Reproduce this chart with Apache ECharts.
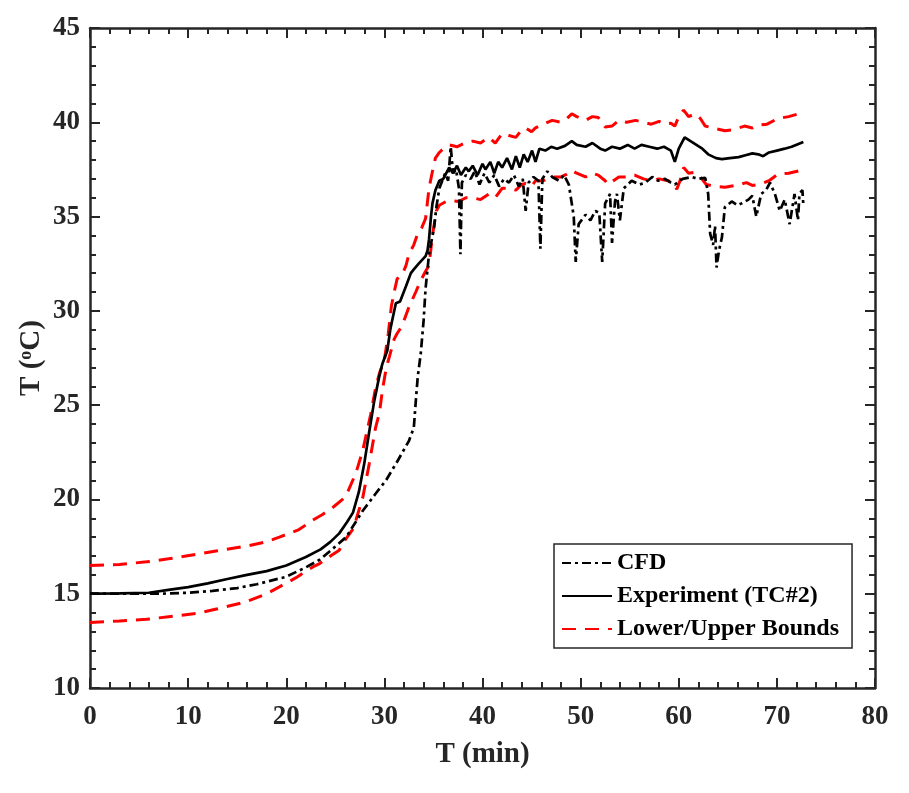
<!DOCTYPE html>
<html>
<head>
<meta charset="utf-8">
<script src="https://cdn.jsdelivr.net/npm/echarts@6/dist/echarts.min.js"></script>
<style>html,body{margin:0;padding:0;background:#fff}#c{width:909px;height:793px}</style>
</head>
<body>
<div id="c"></div>
<script>
// ---- Data ----
const xTicks = [0, 10, 20, 30, 40, 50, 60, 70, 80];
const yTicks = [10, 15, 20, 25, 30, 35, 40, 45];

const tExp = [0,3,6,8,10,12,14,16,18,20,22,23.5,24.5,25.4,26.2,26.8,27.4,27.95,28.46,28.96,29.47,29.8,30.3,30.6,30.8,31.17,31.6,32.2,32.7,33.0,33.5,34.2,34.4,34.55,34.75,34.9,35.2,35.6,36.0,36.6,37.0,37.4,37.8,38.3,38.6,39.0,39.5,40.0,40.3,40.8,41.2,41.6,42.0,42.5,43.0,43.4,43.8,44.2,44.6,45.05,45.4,45.8,46.4,47.0,47.6,48.4,49.1,49.6,50.5,51.2,52.0,52.5,53.2,54.0,54.8,55.5,56.2,57.0,57.8,58.5,59.2,59.6,60.0,60.6,61.2,61.8,62.4,63.0,63.8,64.4,65.2,66.1,66.8,67.5,68.1,68.6,69.2,70.0,70.8,71.5,72.2,72.7];
const TExp = [15.0,15.02,15.05,15.2,15.35,15.55,15.78,16.0,16.2,16.5,16.95,17.35,17.75,18.2,18.8,19.3,20.4,21.9,23.6,25.2,26.5,27.2,27.9,29.0,29.5,30.4,30.5,31.3,32.0,32.2,32.5,32.9,33.2,33.8,35.0,35.7,36.4,36.9,37.0,37.6,37.3,37.7,37.2,37.6,37.4,37.7,37.2,37.8,37.5,37.9,37.3,37.9,37.6,38.1,37.5,38.2,37.6,38.3,37.9,38.5,37.9,38.6,38.5,38.7,38.6,38.75,39.0,38.8,38.7,38.9,38.6,38.5,38.7,38.6,38.8,38.6,38.8,38.7,38.6,38.7,38.5,37.9,38.6,39.2,39.0,38.8,38.6,38.3,38.1,38.05,38.1,38.15,38.25,38.35,38.3,38.2,38.4,38.5,38.6,38.7,38.85,38.95];

const tCfd = [0,4,7,10,12.5,15,17,20,22,23.4,25,26.1,27.8,29.1,30.15,31.3,32.5,33.0,33.2,33.4,33.7,34.0,34.2,34.55,35.06,35.3,35.6,35.9,36.2,36.5,36.76,37.0,37.3,37.6,37.75,37.9,38.3,38.8,39.2,39.7,40.2,40.7,41.2,41.7,42.2,42.7,43.2,43.7,44.1,44.4,44.7,45.2,45.7,45.9,46.1,46.6,47.1,47.8,48.3,48.8,49.3,49.5,49.8,50.5,51.0,51.5,51.9,52.2,52.5,53.0,53.2,53.5,53.7,54.0,54.4,55.2,56.0,56.6,57.3,57.9,58.6,59.2,59.6,60.4,61.3,62.0,62.7,62.9,63.0,63.2,63.5,63.7,63.85,64.1,64.4,64.7,65.4,66.0,66.4,67.1,67.5,67.9,68.4,68.9,69.3,69.8,70.3,70.8,71.3,71.8,72.15,72.3,72.6,72.7];
const TCfd = [15.0,15.0,15.0,15.05,15.15,15.3,15.5,15.9,16.4,16.8,17.5,18.0,19.4,20.3,21.0,22.0,23.1,23.8,25.2,26.5,27.7,29.5,31.2,33.0,34.4,35.5,36.5,36.9,37.3,36.9,38.7,37.3,37.5,36.5,33.0,36.8,37.2,37.0,37.4,36.7,37.3,36.8,37.2,36.6,37.0,36.8,37.2,36.6,37.0,35.3,36.8,37.1,36.9,33.3,37.0,37.4,37.1,36.9,37.2,36.7,35.0,32.6,34.6,35.1,34.8,35.3,35.2,32.6,35.7,36.2,33.6,35.8,36.2,34.8,36.5,36.9,36.7,36.8,37.1,36.9,37.0,36.8,36.7,37.0,37.1,37.0,37.05,36.5,36.2,34.1,33.5,34.5,32.3,33.2,33.9,35.5,35.8,35.6,35.7,35.9,36.1,35.0,36.2,36.4,36.8,36.2,35.3,35.9,34.6,36.2,34.8,36.2,36.4,35.6];

const tUp = [0,3,5.76,8,10.8,13,15.9,18,19.3,21.3,22.7,23.7,24.8,25.74,26.1,27.1,27.8,28.6,29.1,29.5,30.0,30.4,30.7,31.0,31.3,31.8,32.2,32.5,33.0,33.4,33.8,34.2,34.55,34.9,35.2,35.6,36.0,36.6,37.4,38.2,39.0,39.8,40.65,41.3,42.0,42.7,43.4,44.0,44.4,45.0,45.4,46.2,47.1,48.0,48.6,49.1,49.6,50.5,51.2,51.8,52.5,53.2,53.9,54.7,55.6,56.4,57.2,58.0,58.6,59.2,59.6,60.0,60.5,61.0,61.7,62.2,62.7,63.5,64.7,65.5,66.7,67.5,68.1,69.0,70.1,71.2,72.2,72.7];
const TUp = [16.5,16.55,16.69,16.85,17.08,17.28,17.52,17.75,18.0,18.4,18.9,19.2,19.6,20.0,20.2,21.4,22.6,24.5,25.9,26.7,27.4,28.8,30.2,31.0,31.7,31.9,32.4,33.0,33.5,34.1,34.4,34.9,36.5,37.4,38.1,38.4,38.6,38.8,38.7,38.9,39.0,38.9,39.2,38.9,39.4,39.3,39.2,39.6,39.7,39.5,39.7,39.9,40.1,40.0,40.2,40.45,40.3,40.1,40.3,40.25,39.75,39.8,40.1,40.0,40.1,40.0,39.9,40.05,39.9,39.95,39.8,40.3,40.65,40.3,40.45,40.2,39.8,39.7,39.55,39.6,39.8,39.7,39.85,39.9,40.2,40.3,40.45,40.5];

const tLow = [0,3,5.76,8,10.8,13,15.9,18,19.3,21,22.7,23.4,24.5,25.4,25.74,26.76,27.1,27.8,28.46,29.1,29.5,29.8,30.2,30.5,31.0,31.3,31.8,32.5,33.2,33.7,34.2,34.55,34.9,35.3,35.6,36.3,36.9,37.6,38.3,39.0,39.8,40.65,41.3,42.0,42.7,43.4,44.0,44.4,45.0,45.4,46.2,47.1,48.0,48.6,49.1,49.6,50.5,51.2,51.8,52.5,52.8,53.9,54.7,55.5,56.4,57.2,58.0,58.9,59.4,59.8,60.2,60.5,61.0,61.65,62.2,62.8,63.7,64.7,65.8,66.9,67.5,68.3,69.2,70.1,71.2,72.3,72.7];
const TLow = [13.48,13.55,13.64,13.78,13.95,14.2,14.57,15.0,15.36,15.85,16.42,16.6,17.0,17.3,17.66,18.4,18.9,20.1,21.9,23.8,24.6,25.8,27.0,27.55,28.5,28.8,29.2,30.2,31.0,31.6,32.1,32.4,34.0,35.3,35.6,35.8,35.84,35.8,36.0,36.0,35.9,36.2,36.0,36.5,36.5,36.4,36.7,36.75,36.6,36.9,36.9,37.1,37.1,37.25,37.45,37.3,37.1,37.3,37.2,36.9,36.7,37.1,37.1,37.2,37.0,36.9,37.0,36.9,36.8,36.45,37.0,37.6,37.3,37.35,37.1,36.7,36.6,36.55,36.65,36.8,36.65,36.72,36.9,37.25,37.3,37.43,37.5];

// ---- Chart ----
const pairs = (xs, ys) => xs.map((x, i) => [x, ys[i]]);
const FONT = 'Liberation Serif, Times New Roman, serif';
const AX = '#262626';

const axisCommon = {
  axisLine: { show: true, onZero: false, lineStyle: { color: AX, width: 2.5 } },
  axisTick: { show: true, inside: true, length: 10, lineStyle: { color: AX, width: 2 } },
  minorTick: { show: true, splitNumber: 5, length: 6, lineStyle: { color: AX, width: 2 } },
  splitLine: { show: false },
  minorSplitLine: { show: false }
};

const chart = echarts.init(document.getElementById('c'), null, { renderer: 'canvas' });
chart.setOption({
  animation: false,
  backgroundColor: '#fff',
  grid: { left: 90, right: 34, top: 28, bottom: 105, containLabel: false },
  xAxis: [
    Object.assign({
      type: 'value', min: xTicks[0], max: xTicks[xTicks.length - 1], interval: 10, position: 'bottom',
      name: 'T (min)', nameLocation: 'middle', nameGap: 52,
      nameTextStyle: { fontFamily: FONT, fontWeight: 'bold', fontSize: 29, color: AX },
      axisLabel: { show: true, margin: 16, fontFamily: FONT, fontWeight: 'bold', fontSize: 27, color: AX }
    }, axisCommon),
    Object.assign({
      type: 'value', min: xTicks[0], max: xTicks[xTicks.length - 1], interval: 10, position: 'top',
      axisLabel: { show: false }
    }, axisCommon)
  ],
  yAxis: [
    Object.assign({
      type: 'value', min: yTicks[0], max: yTicks[yTicks.length - 1], interval: 5, position: 'left',
      name: 'T ({sup|o}C)', nameLocation: 'middle', nameGap: 44, nameMoveOverlap: false,
      nameTextStyle: {
        fontFamily: FONT, fontWeight: 'bold', fontSize: 29, color: AX,
        rich: { sup: { fontFamily: FONT, fontWeight: 'bold', fontSize: 18, color: AX, verticalAlign: 'top', padding: [0, 0, 11, 0] } }
      },
      axisLabel: { show: true, margin: 10, fontFamily: FONT, fontWeight: 'bold', fontSize: 27, color: AX }
    }, axisCommon),
    Object.assign({
      type: 'value', min: yTicks[0], max: yTicks[yTicks.length - 1], interval: 5, position: 'right',
      axisLabel: { show: false }
    }, axisCommon)
  ],
  legend: {
    orient: 'vertical', left: 554, top: 544,
    padding: [7, 13, 7, 7], itemGap: 9, itemWidth: 50, itemHeight: 16,
    backgroundColor: '#fff', borderColor: AX, borderWidth: 1.5, borderRadius: 0,
    itemStyle: { opacity: 0 },
    textStyle: { fontFamily: FONT, fontWeight: 'bold', fontSize: 24, color: '#000' },
    data: ['CFD', 'Experiment (TC#2)', 'Lower/Upper Bounds']
  },
  series: [
    { name: 'Lower/Upper Bounds', type: 'line', data: pairs(tUp, TUp), symbol: 'none', z: 2,
      itemStyle: { color: '#ff0000' },
      lineStyle: { color: '#ff0000', width: 3, type: [14, 9] } },
    { name: 'Lower/Upper Bounds', type: 'line', data: pairs(tLow, TLow), symbol: 'none', z: 2,
      itemStyle: { color: '#ff0000' },
      lineStyle: { color: '#ff0000', width: 3, type: [14, 9] } },
    { name: 'CFD', type: 'line', data: pairs(tCfd, TCfd), symbol: 'none', z: 3,
      itemStyle: { color: '#000' },
      lineStyle: { color: '#000', width: 2.7, type: [9, 4, 3, 4] } },
    { name: 'Experiment (TC#2)', type: 'line', data: pairs(tExp, TExp), symbol: 'none', z: 4,
      itemStyle: { color: '#000' },
      lineStyle: { color: '#000', width: 2.7, type: 'solid' } }
  ]
});
</script>
</body>
</html>
